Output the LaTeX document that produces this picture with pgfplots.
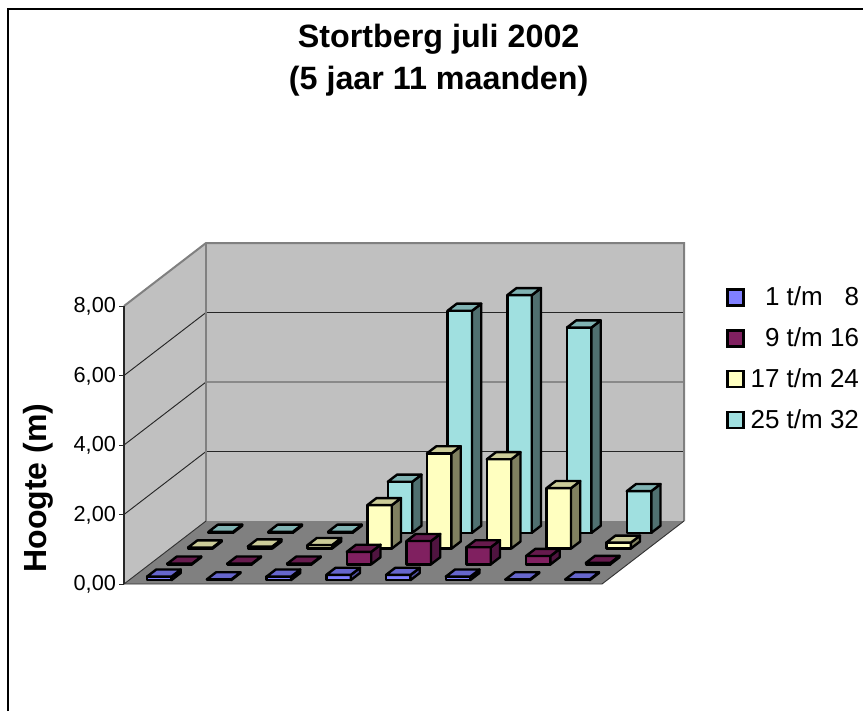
\documentclass[border=0pt]{standalone}
\usepackage{pgfplots}
\pgfplotsset{compat=1.18}
\usepackage{fontspec}
\setmainfont{Liberation Sans}
\definecolor{afront}{HTML}{8080FF}\definecolor{atop}{HTML}{6666CC}\definecolor{aside}{HTML}{5050A0}
\definecolor{bfront}{HTML}{802060}\definecolor{btop}{HTML}{661A4D}\definecolor{bside}{HTML}{501440}
\definecolor{cfront}{HTML}{FFFFC0}\definecolor{ctop}{HTML}{CCCC99}\definecolor{cside}{HTML}{808060}
\definecolor{dfront}{HTML}{A0E0E0}\definecolor{dtop}{HTML}{80B3B3}\definecolor{dside}{HTML}{507070}
\definecolor{wall}{HTML}{C0C0C0}\definecolor{flr}{HTML}{808080}
% one bar: category index (0..7), series index (0..3), height, colour prefix
\newcommand{\onebar}[4]{%
  \pgfmathsetmacro\xa{#1+0.30}\pgfmathsetmacro\xb{#1+0.71}%
  \pgfmathsetmacro\ya{#2+0.25}\pgfmathsetmacro\yb{#2+0.70}%
  \edef\tmp{%
  \noexpand\addplot3[forget plot,mark=none,draw=black,line width=1.8pt,line join=round,fill=#4front] coordinates {(\xa,\ya,0) (\xb,\ya,0) (\xb,\ya,#3) (\xa,\ya,#3)} --cycle;
  \noexpand\addplot3[forget plot,mark=none,draw=black,line width=1.8pt,line join=round,fill=#4side] coordinates {(\xb,\ya,0) (\xb,\yb,0) (\xb,\yb,#3) (\xb,\ya,#3)} --cycle;
  \noexpand\addplot3[forget plot,mark=none,draw=black,line width=1.8pt,line join=round,fill=#4top] coordinates {(\xa,\ya,#3) (\xb,\ya,#3) (\xb,\yb,#3) (\xa,\yb,#3)} --cycle;
  }\tmp}
\begin{document}
\begin{tikzpicture}[x=1pt,y=1pt]
\path[use as bounding box] (0,0) rectangle (647.25,-533.25);
\clip (0,0) rectangle (647.25,-533.25);
\draw[black,line width=1.2pt] (6.2,-533.25) -- (6.2,-6.8) -- (647.25,-6.8);
\begin{axis}[
  at={(93pt,-438pt)},anchor=origin,
  x={(44.8125pt,0pt)},y={(15.375pt,11.8125pt)},z={(0pt,26.0625pt)},
  xmin=0,xmax=8,ymin=0,ymax=4,zmin=0,zmax=8,
  clip=false,
  axis line style={draw=none},
  xtick=\empty,ytick=\empty,
  ztick={0,2,4,6,8},
  ztick pos=left,
  tick align=outside,
  major tick length=0pt,
  /pgf/number format/assume math mode=true,
  /pgf/number format/.cd,fixed,fixed zerofill,precision=2,use comma,/tikz/.cd,
  zticklabel style={font=\fontsize{16.3}{18}\selectfont,xshift=-2.5pt,yshift=6pt},
  legend cell align=right,
  legend columns=1,
  legend image code/.code={\draw[#1,line width=1.8pt] (0pt,-6pt) rectangle (12pt,6pt);\path (15pt,0pt);},
  legend style={draw=none,fill=none,font=\fontsize{19.5}{22}\selectfont,
    at={(axis cs:12.35,0,8.63)},anchor=north east,row sep=11pt,inner sep=0pt},
]
% walls and floor
\addplot3[forget plot,mark=none,draw=none,fill=wall] coordinates {(0,4,0) (8,4,0) (8,4,8) (0,4,8)} --cycle;
\addplot3[forget plot,mark=none,draw=none,fill=wall] coordinates {(0,0,0) (0,4,0) (0,4,8) (0,0,8)} --cycle;
\addplot3[forget plot,mark=none,draw=none,fill=flr] coordinates {(0,0,0) (8,0,0) (8,4,0) (0,4,0)} --cycle;
% grid
\addplot3[forget plot,mark=none,black!85,line width=0.7pt] coordinates {(0,0,2) (0,4,2) (8,4,2)};
\addplot3[forget plot,mark=none,black!85,line width=0.7pt] coordinates {(0,0,4) (0,4,4) (8,4,4)};
\addplot3[forget plot,mark=none,black!85,line width=0.7pt] coordinates {(0,0,6) (0,4,6) (8,4,6)};
% edges
\addplot3[forget plot,mark=none,flr,line width=1.5pt] coordinates {(0,0,8) (0,4,8) (8,4,8) (8,4,0)};
\addplot3[forget plot,mark=none,flr,line width=2pt] coordinates {(0,4,0) (0,4,8)};
\addplot3[forget plot,mark=none,black!80,line width=0.7pt] coordinates {(0,0,0) (8,0,0) (8,4,0)};
\addplot3[forget plot,mark=none,black!80,line width=0.7pt] coordinates {(0,0,0) (0,4,0)};
\addplot3[forget plot,mark=none,black!85,line width=0.8pt] coordinates {(0,0,0) (0,0,8)};
% tick marks
\addplot3[forget plot,mark=none,black!85,line width=0.7pt] coordinates {(-0.08,0,0) (0,0,0)};
\addplot3[forget plot,mark=none,black!85,line width=0.7pt] coordinates {(-0.08,0,2) (0,0,2)};
\addplot3[forget plot,mark=none,black!85,line width=0.7pt] coordinates {(-0.08,0,4) (0,0,4)};
\addplot3[forget plot,mark=none,black!85,line width=0.7pt] coordinates {(-0.08,0,6) (0,0,6)};
\addplot3[forget plot,mark=none,black!85,line width=0.7pt] coordinates {(-0.08,0,8) (0,0,8)};
% 25 t/m 32
\onebar{0}{3}{0.03}{d}\onebar{1}{3}{0.03}{d}\onebar{2}{3}{0.03}{d}\onebar{3}{3}{1.47}{d}
\onebar{4}{3}{6.39}{d}\onebar{5}{3}{6.84}{d}\onebar{6}{3}{5.91}{d}\onebar{7}{3}{1.20}{d}
% 17 t/m 24
\onebar{0}{2}{0.03}{c}\onebar{1}{2}{0.06}{c}\onebar{2}{2}{0.10}{c}\onebar{3}{2}{1.25}{c}
\onebar{4}{2}{2.74}{c}\onebar{5}{2}{2.57}{c}\onebar{6}{2}{1.74}{c}\onebar{7}{2}{0.17}{c}
% 9 t/m 16
\onebar{0}{1}{0.02}{b}\onebar{1}{1}{0.02}{b}\onebar{2}{1}{0.02}{b}\onebar{3}{1}{0.36}{b}
\onebar{4}{1}{0.67}{b}\onebar{5}{1}{0.49}{b}\onebar{6}{1}{0.24}{b}\onebar{7}{1}{0.04}{b}
% 1 t/m 8
\onebar{0}{0}{0.10}{a}\onebar{1}{0}{0.02}{a}\onebar{2}{0}{0.10}{a}\onebar{3}{0}{0.15}{a}
\onebar{4}{0}{0.15}{a}\onebar{5}{0}{0.10}{a}\onebar{6}{0}{0.02}{a}\onebar{7}{0}{0.02}{a}
\addlegendimage{draw=black,fill=afront}\addlegendentry{1 t/m \phantom{1}8}
\addlegendimage{draw=black,fill=bfront}\addlegendentry{9 t/m 16}
\addlegendimage{draw=black,fill=cfront}\addlegendentry{17 t/m 24}
\addlegendimage{draw=black,fill=dfront}\addlegendentry{25 t/m 32}
\end{axis}
\node[font=\bfseries\fontsize{24.2}{31.5}\selectfont,align=center] at (329,-45) {Stortberg juli 2002\\(5 jaar 11 maanden)};
\node[font=\bfseries\fontsize{24}{29}\selectfont,rotate=90] at (28.5,-366) {Hoogte (m)};
\end{tikzpicture}
\end{document}
